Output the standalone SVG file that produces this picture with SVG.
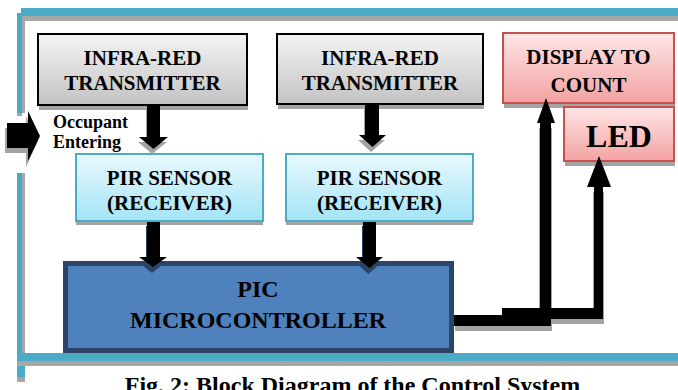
<svg xmlns="http://www.w3.org/2000/svg" width="678" height="390" viewBox="0 0 678 390">
  <defs>
    <linearGradient id="gGray" x1="0" y1="0" x2="0" y2="1">
      <stop offset="0" stop-color="#f4f4f4"/>
      <stop offset="1" stop-color="#c3c3c3"/>
    </linearGradient>
    <linearGradient id="gPink" x1="0" y1="0" x2="0" y2="1">
      <stop offset="0" stop-color="#fee6e6"/>
      <stop offset="1" stop-color="#f4a2a2"/>
    </linearGradient>
    <linearGradient id="gCyan" x1="0" y1="0" x2="0" y2="1">
      <stop offset="0" stop-color="#e9f9fe"/>
      <stop offset="1" stop-color="#a3e4f6"/>
    </linearGradient>
  </defs>
  <style>
    text { font-family: "Liberation Serif", "Times New Roman", serif; font-weight: bold; fill: #000; text-anchor: middle; }
    .t21 { font-size: 21px; }
    .t24 { font-size: 24px; }
    .t32 { font-size: 32px; }
    .t18 { font-size: 18px; text-anchor: start; }
    .frame { fill: #4aabc5; }
    .fshadow { fill: #a6a6a6; }
    .shadow { fill: #a3a3a3; }
    .tx { fill: url(#gGray); stroke: #000; stroke-width: 2; }
    .pir { fill: url(#gCyan); stroke: #4bacc6; stroke-width: 2; }
    .out { fill: url(#gPink); stroke: #c9504d; stroke-width: 2; }
    .pic { fill: #4f81bd; stroke: #2b4468; stroke-width: 5; }
    .arrow { fill: #000; }
  </style>

  <!-- enclosing room outline -->
  <g id="frame">
    <rect class="fshadow" x="21" y="15" width="657" height="6"/>
    <rect class="frame" x="21" y="8" width="657" height="8"/>
    <rect class="fshadow" x="22" y="20" width="3" height="93"/>
    <rect class="fshadow" x="17" y="112" width="5" height="4"/>
    <rect class="frame" x="17" y="13" width="5" height="100"/>
    <rect class="fshadow" x="22" y="173" width="3" height="180"/>
    <rect class="frame" x="17" y="173" width="5" height="180"/>
    <rect class="fshadow" x="17" y="361" width="661" height="5"/>
    <rect class="frame" x="17" y="353" width="661" height="8"/>
    <rect class="frame" x="17" y="366" width="8" height="11"/>
    <rect class="fshadow" x="17" y="377" width="8" height="5"/>
  </g>

  <!-- entering arrow and label -->
  <g id="entry">
    <polygon class="shadow" points="5,128 26,128 26,116 38,141 26,167 26,153 5,153"/>
    <polygon class="arrow" points="7,123 28,123 28,111 40,136 28,161 28,148 7,148"/>
    <text class="t18" x="53" y="128">Occupant</text>
    <text class="t18" x="53" y="148">Entering</text>
  </g>

  <g id="tx1">
    <rect class="shadow" x="39" y="38" width="209" height="72"/>
    <rect class="tx" x="38" y="34" width="209" height="71"/>
    <text class="t21" x="142.5" y="65">INFRA-RED</text>
    <text class="t21" x="142.5" y="90">TRANSMITTER</text>
  </g>

  <g id="tx2">
    <rect class="shadow" x="278" y="38" width="206" height="71"/>
    <rect class="tx" x="277" y="34" width="206" height="70"/>
    <text class="t21" x="380" y="65">INFRA-RED</text>
    <text class="t21" x="380" y="90">TRANSMITTER</text>
  </g>

  <g id="display">
    <rect class="shadow" x="504" y="37" width="171" height="71"/>
    <rect class="out" x="503" y="33" width="171" height="70"/>
    <text class="t21" x="588.5" y="64">DISPLAY TO</text>
    <text class="t21" x="588.5" y="92">COUNT</text>
  </g>

  <g id="led">
    <rect class="shadow" x="565" y="111" width="110" height="55"/>
    <rect class="out" x="564" y="107" width="110" height="54"/>
    <text class="t32" x="619" y="147">LED</text>
  </g>

  <g id="pir1">
    <rect class="shadow" x="76" y="158" width="187" height="67"/>
    <rect class="pir" x="76" y="154" width="187" height="67"/>
    <text class="t21" x="169.5" y="185">PIR SENSOR</text>
    <text class="t21" x="169.5" y="210">(RECEIVER)</text>
  </g>

  <g id="pir2">
    <rect class="shadow" x="286" y="158" width="187" height="67"/>
    <rect class="pir" x="286" y="154" width="187" height="67"/>
    <text class="t21" x="379.5" y="185">PIR SENSOR</text>
    <text class="t21" x="379.5" y="210">(RECEIVER)</text>
  </g>

  <g id="pic">
    <rect class="pic" x="65.5" y="263.5" width="386" height="87"/>
    <text class="t24" x="258" y="297">PIC</text>
    <text class="t24" x="258" y="328">MICROCONTROLLER</text>
  </g>

  <!-- signal arrows between blocks -->
  <g id="connectors">
    <polygon class="shadow" points="146,110 159,110 159,142 167,142 152,154 138,142 146,142"/>
    <polygon class="arrow" points="147,105 160,105 160,137 168,137 153.5,149 139,137 147,137"/>

    <polygon class="shadow" points="364,108 378,108 378,140 385,140 371,152 358,140 364,140"/>
    <polygon class="arrow" points="365,104 379,104 379,135 386,135 372.5,147 359,135 365,135"/>

    <polygon fill="#2b4468" points="146,226 159,226 159,262 166,262 152,273 138,262 146,262"/>
    <polygon class="arrow" points="147,222 160,222 160,257 167,257 153,267 139,257 147,257"/>

    <polygon fill="#2b4468" points="362,226 375,226 375,262 382,262 368.5,274 355,262 362,262"/>
    <polygon class="arrow" points="363,222 376,222 376,257 383,257 369.5,268 356,257 363,257"/>

    <polygon class="shadow" points="455,320 539,320 539,128 552,128 552,331 455,331"/>
    <polygon class="shadow" points="503,313 593,313 593,192 604,192 604,324 503,324"/>

    <polygon class="arrow" points="502,308 594,308 594,187 587,187 599,156 611,187 603,187 603,319 502,319"/>
    <polygon class="arrow" points="454,315 540,315 540,123 537,123 546,98 555,123 551,123 551,326 454,326"/>
  </g>

  <text id="caption" class="t24" x="352.5" y="393">Fig. 2: Block Diagram of the Control System</text>
</svg>
